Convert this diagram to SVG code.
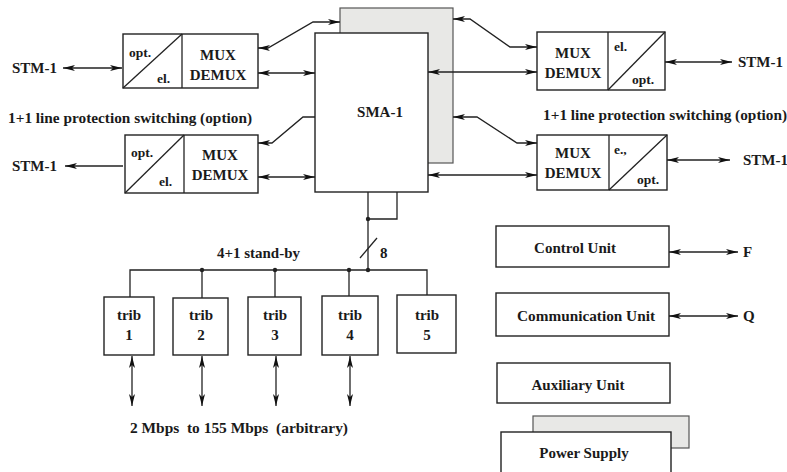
<svg xmlns="http://www.w3.org/2000/svg" width="787" height="472" viewBox="0 0 787 472">
<style>
.b{fill:#fff;stroke:#222;stroke-width:1.4}
.s{fill:#e8e8e6;stroke:#555;stroke-width:1.2}
.l{fill:none;stroke:#222;stroke-width:1.3}
.t{font-family:"Liberation Serif","Times New Roman",serif;font-weight:bold;fill:#1a1a1a;font-size:15px}
.o{font-size:13.5px}
.m{text-anchor:middle}
.c line,.c path{fill:none;stroke:#222;stroke-width:1.3}
.a2{marker-start:url(#ah);marker-end:url(#ah)}
</style>
<defs>
<marker id="ah" viewBox="0 0 12 6" refX="12" refY="3" markerWidth="12" markerHeight="6" markerUnits="userSpaceOnUse" orient="auto-start-reverse">
<path d="M0,0 L12,3 L0,6 L3,3 z" fill="#111"/>
</marker>
</defs>
<rect width="787" height="472" fill="#fff"/>

<g id="sma1">
<rect class="s" x="340" y="8" width="113" height="155"/>
<rect class="b" x="315" y="33" width="113" height="159"/>
<text class="t m" x="380" y="117" font-size="16">SMA-1</text>
</g>

<g id="lmux1">
<rect class="b" x="123" y="34" width="135" height="54"/>
<line class="l" x1="182" y1="34" x2="182" y2="88"/>
<line class="l" x1="123" y1="88" x2="182" y2="34"/>
<text class="t o" x="129" y="57">opt.</text>
<text class="t o" x="157" y="83">el.</text>
<text class="t m" x="218" y="60">MUX</text>
<text class="t m" x="218" y="80">DEMUX</text>
</g>

<g id="lmux2">
<rect class="b" x="125" y="135" width="133" height="58"/>
<line class="l" x1="184" y1="135" x2="184" y2="193"/>
<line class="l" x1="125" y1="193" x2="184" y2="135"/>
<text class="t o" x="131" y="157">opt.</text>
<text class="t o" x="159" y="186">el.</text>
<text class="t m" x="220" y="160">MUX</text>
<text class="t m" x="220" y="180">DEMUX</text>
</g>

<g id="rmux1">
<rect class="b" x="537" y="32" width="128" height="58"/>
<line class="l" x1="608" y1="32" x2="608" y2="90"/>
<line class="l" x1="608" y1="90" x2="665" y2="32"/>
<text class="t o" x="614" y="51">el.</text>
<text class="t o" x="632" y="84">opt.</text>
<text class="t m" x="573" y="58">MUX</text>
<text class="t m" x="573" y="78">DEMUX</text>
</g>

<g id="rmux2">
<rect class="b" x="537" y="135" width="130" height="55"/>
<line class="l" x1="609" y1="135" x2="609" y2="190"/>
<line class="l" x1="609" y1="190" x2="667" y2="135"/>
<text class="t o" x="614" y="154">e.,</text>
<text class="t o" x="637" y="184">opt.</text>
<text class="t m" x="573" y="158">MUX</text>
<text class="t m" x="573" y="178">DEMUX</text>
</g>

<g id="trib1"><rect class="b" x="104" y="297" width="50" height="58"/><text class="t m" x="129" y="320">trib</text><text class="t m" x="129" y="340">1</text></g>
<g id="trib2"><rect class="b" x="173" y="298" width="55" height="57"/><text class="t m" x="201" y="320">trib</text><text class="t m" x="201" y="340">2</text></g>
<g id="trib3"><rect class="b" x="248" y="297" width="53" height="58"/><text class="t m" x="275" y="320">trib</text><text class="t m" x="275" y="340">3</text></g>
<g id="trib4"><rect class="b" x="322" y="296" width="56" height="59"/><text class="t m" x="350" y="320">trib</text><text class="t m" x="350" y="340">4</text></g>
<g id="trib5"><rect class="b" x="397" y="295" width="59" height="58"/><text class="t m" x="427" y="320">trib</text><text class="t m" x="427" y="340">5</text></g>

<g id="control"><rect class="b" x="496" y="226" width="173" height="41"/><text class="t m" x="575" y="253">Control Unit</text></g>
<g id="comm"><rect class="b" x="496" y="293" width="173" height="43"/><text class="t m" x="586" y="321" textLength="138" lengthAdjust="spacingAndGlyphs">Communication Unit</text></g>
<g id="aux"><rect class="b" x="497" y="363" width="173" height="40"/><text class="t m" x="578" y="390">Auxiliary Unit</text></g>
<g id="power">
<rect class="s" x="533" y="416" width="156" height="32"/>
<rect class="b" x="501" y="432" width="170" height="45"/>
<text class="t m" x="584" y="458">Power Supply</text>
</g>

<g id="labels">
<text class="t" x="12" y="73" font-size="14.5">STM-1</text>
<text class="t" x="12" y="171" font-size="14.5">STM-1</text>
<text class="t" x="738" y="67" font-size="14.5">STM-1</text>
<text class="t" x="743" y="165" font-size="14.5">STM-1</text>
<text class="t" x="8" y="123" textLength="244" lengthAdjust="spacingAndGlyphs">1+1 line protection switching (option)</text>
<text class="t" x="543" y="120" textLength="244" lengthAdjust="spacingAndGlyphs">1+1 line protection switching (option)</text>
<text class="t" x="217" y="258" textLength="83" lengthAdjust="spacingAndGlyphs">4+1 stand-by</text>
<text class="t" x="380" y="258">8</text>
<text class="t" x="130" y="433" xml:space="preserve" textLength="218" lengthAdjust="spacingAndGlyphs">2 Mbps  to 155 Mbps  (arbitrary)</text>
<text class="t" x="743" y="257" font-size="14">F</text>
<text class="t" x="743" y="321" font-size="14">Q</text>
</g>

<g id="connectors" class="c">
<line class="a2" x1="63" y1="68" x2="122" y2="68"/>
<line x1="123" y1="166" x2="65" y2="166" marker-end="url(#ah)"/>
<path class="a2" d="M258,48 L268,48 L313,22 L340,22"/>
<line class="a2" x1="258" y1="73" x2="315" y2="73"/>
<path d="M258,143 L272,143 L303,117 L315,117" marker-start="url(#ah)"/>
<line class="a2" x1="258" y1="177" x2="315" y2="177"/>
<path class="a2" d="M453,19 L470,19 L510,47 L537,47"/>
<line class="a2" x1="428" y1="72" x2="537" y2="72"/>
<path class="a2" d="M453,117 L477,117 L517,143 L537,143"/>
<line class="a2" x1="428" y1="175" x2="537" y2="175"/>
<line class="a2" x1="665" y1="62" x2="732" y2="62"/>
<line class="a2" x1="667" y1="160" x2="730" y2="160"/>
<line class="a2" x1="669" y1="252" x2="738" y2="252"/>
<line class="a2" x1="669" y1="316" x2="738" y2="316"/>
<line x1="368" y1="192" x2="368" y2="270"/>
<path d="M368,219 L397,219 L397,192"/>
<line x1="360" y1="258" x2="377" y2="238"/>
<path d="M130,297 L130,270 L427,270 L427,295"/>
<line x1="202" y1="270" x2="202" y2="298"/>
<line x1="275" y1="270" x2="275" y2="297"/>
<line x1="349" y1="270" x2="349" y2="296"/>
<line class="a2" x1="132" y1="356" x2="132" y2="406"/>
<line class="a2" x1="202" y1="356" x2="202" y2="406"/>
<line class="a2" x1="276" y1="356" x2="276" y2="406"/>
<line class="a2" x1="350" y1="356" x2="350" y2="406"/>
<circle cx="368" cy="219" r="2.2" fill="#222"/>
<circle cx="202" cy="270" r="2.2" fill="#222"/>
<circle cx="275" cy="270" r="2.2" fill="#222"/>
<circle cx="349" cy="270" r="2.2" fill="#222"/>
<circle cx="368" cy="270" r="2.2" fill="#222"/>
</g>
</svg>
